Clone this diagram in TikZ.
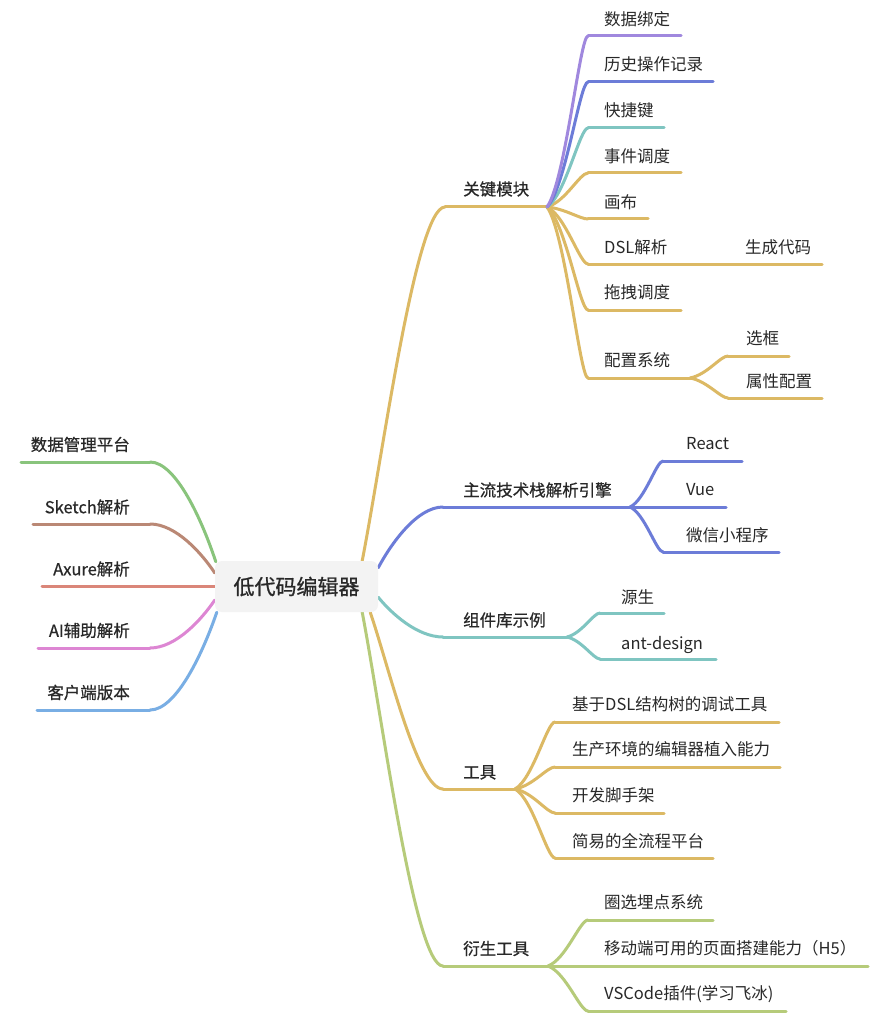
\documentclass[tikz,border=0pt]{standalone}
\usepackage{fontspec}
\setmainfont{Noto Sans CJK SC}
\newfontfamily\medfont{Noto Sans CJK SC}[FakeBold=0.7]
\newfontfamily\rootfont{Noto Sans CJK SC}[FakeBold=0.9]
\usetikzlibrary{calc}
\pgfdeclarelayer{bg}
\pgfsetlayers{bg,main}
\definecolor{cgold}{RGB}{220,185,100}
\definecolor{cpurple}{RGB}{160,136,222}
\definecolor{cblue}{RGB}{108,124,216}
\definecolor{cteal}{RGB}{127,197,193}
\definecolor{cgreen}{RGB}{137,196,124}
\definecolor{cbrown}{RGB}{186,136,117}
\definecolor{csalmon}{RGB}{218,134,121}
\definecolor{cpink}{RGB}{221,134,211}
\definecolor{csky}{RGB}{121,174,228}
\definecolor{colive}{RGB}{182,203,122}
\definecolor{rootfill}{RGB}{243,243,243}
\definecolor{txt}{RGB}{40,40,40}
\newcommand\bconn[6]{\draw[branch,#1] let \p1=(#2),\p2=(#3) in (\p1) .. controls ({\x1+#4*(\x2-\x1)},{\y1+#5*(\y2-\y1)}) and ({\x1+#6*(\x2-\x1)},\y2) .. (\p2);}
\begin{document}
\begin{tikzpicture}[x=1pt,y=-1pt,
  branch/.style={line width=3pt,line cap=round},
  lab/.style={anchor=west,inner sep=0pt,text height=14.5pt,text depth=2pt,font=\fontsize{16.5}{16.5}\selectfont,text=txt},
  labone/.style={lab,font=\medfont\fontsize{16.5}{16.5}\selectfont},
  llab/.style={labone,anchor=east},
  rootbox/.style={fill=rootfill,rounded corners=7pt,minimum width=163pt,minimum height=51pt,inner sep=0pt,font=\rootfont\fontsize{21}{21}\selectfont,text=txt}]
\begin{pgfonlayer}{bg}
\path[fill=white] (0,0) rectangle (885,1024);
\end{pgfonlayer}
\useasboundingbox (0,0) rectangle (885,1024);
% root
\node[rootbox] (root) at (296.5,586.5) {低代码编辑器};
% ---------- left side ----------
\node[llab] (dm) at (130,444.5) {数据管理平台};
\node[llab] (sk) at (130,507) {Sketch解析};
\node[llab] (ax) at (130,569) {Axure解析};
\node[llab] (ai) at (130,630.5) {AI辅助解析};
\node[llab] (kh) at (130,692.5) {客户端版本};
\coordinate (dmP) at ($(root.north west)+(1,1)$);
\coordinate (dmC) at (150,462); \coordinate (dmE) at (21,462);
\coordinate (skP) at ($(root.west)+(0,-13.5)$);
\coordinate (skC) at (150,524); \coordinate (skE) at (33,524);
\coordinate (axP) at (root.west); \coordinate (axE) at (42,586.5);
\coordinate (aiP) at ($(root.west)+(0,13.5)$);
\coordinate (aiC) at (150,648); \coordinate (aiE) at (38,648);
\coordinate (khP) at ($(root.south west)+(2,0)$);
\coordinate (khC) at (150,710); \coordinate (khE) at (37,710);
% ---------- right level 1 ----------
\node[labone] (kj) at (463,189) {关键模块};
\node[labone] (zl) at (463,490) {主流技术栈解析引擎};
\node[labone] (zj) at (463,620) {组件库示例};
\node[labone] (gj) at (463,772) {工具};
\node[labone] (ys) at (463,948.5) {衍生工具};
\coordinate (kjP) at ($(root.north east)+(-16,0)$);
\coordinate (kjC) at (445,207); \coordinate (kjJ) at (547,207);
\coordinate (zlP) at ($(root.north east)+(0,7)$);
\coordinate (zlC) at (443,507); \coordinate (zlJ) at (630,507);
\coordinate (zjP) at ($(root.south east)+(0,-15)$);
\coordinate (zjC) at (443,637); \coordinate (zjJ) at (567,637);
\coordinate (gjP) at ($(root.south east)+(-8,0)$);
\coordinate (gjC) at (443,789); \coordinate (gjJ) at (515,789);
\coordinate (ysP) at ($(root.south east)+(-16,0)$);
\coordinate (ysC) at (443,966); \coordinate (ysJ) at (548,966);
% ---------- 关键模块 children ----------
\node[lab] (k1) at (604,19) {数据绑定};
\node[lab] (k2) at (604,64.5) {历史操作记录};
\node[lab] (k3) at (604,110) {快捷键};
\node[lab] (k4) at (604,156) {事件调度};
\node[lab] (k5) at (604,202) {画布};
\node[lab] (k6) at (604,247) {DSL解析};
\node[lab] (k6a) at (745,247) {生成代码};
\node[lab] (k7) at (604,292.5) {拖拽调度};
\node[lab] (k8) at (604,360) {配置系统};
\node[lab] (k8a) at (746,338) {选框};
\node[lab] (k8b) at (746,381) {属性配置};
\coordinate (k1S) at (588,36); \coordinate (k1E) at (681,36);
\coordinate (k2S) at (588,82); \coordinate (k2E) at (713,82);
\coordinate (k3S) at (588,128); \coordinate (k3E) at (664,128);
\coordinate (k4S) at (588,173); \coordinate (k4E) at (681,173);
\coordinate (k5S) at (588,219); \coordinate (k5E) at (648,219);
\coordinate (k6S) at (588,264); \coordinate (k6E) at (720,264); \coordinate (k6aE) at (822,264);
\coordinate (k7S) at (588,310); \coordinate (k7E) at (681,310);
\coordinate (k8S) at (588,378); \coordinate (k8J) at (690,378);
\coordinate (k8aS) at (728,356); \coordinate (k8aE) at (789,356);
\coordinate (k8bS) at (728,398); \coordinate (k8bE) at (822,398);
% ---------- 主流 children ----------
\node[lab] (z1) at (686,443) {React};
\node[lab] (z2) at (686,489) {Vue};
\node[lab] (z3) at (686,535) {微信小程序};
\coordinate (z1S) at (663,461); \coordinate (z1E) at (742,461);
\coordinate (z2E) at (726,507);
\coordinate (z3S) at (663,552); \coordinate (z3E) at (779,552);
% ---------- 组件库 children ----------
\node[lab] (c1) at (621,597) {源生};
\node[lab] (c2) at (621,643) {ant-design};
\coordinate (c1S) at (600,613); \coordinate (c1E) at (664,613);
\coordinate (c2S) at (600,659); \coordinate (c2E) at (716,659);
% ---------- 工具 children ----------
\node[lab] (g1) at (572,704) {基于DSL结构树的调试工具};
\node[lab] (g2) at (572,749.5) {生产环境的编辑器植入能力};
\node[lab] (g3) at (572,795.5) {开发脚手架};
\node[lab] (g4) at (572,841) {简易的全流程平台};
\coordinate (g1S) at (555,722); \coordinate (g1E) at (779,722);
\coordinate (g2S) at (555,767); \coordinate (g2E) at (780,767);
\coordinate (g3S) at (555,813); \coordinate (g3E) at (664,813);
\coordinate (g4S) at (555,858); \coordinate (g4E) at (713,858);
% ---------- 衍生工具 children ----------
\node[lab] (y1) at (604,902.5) {圈选埋点系统};
\node[lab] (y2) at (604,948.5) {移动端可用的页面搭建能力（H5）};
\node[lab] (y3) at (604,993.5) {VSCode插件(学习飞冰)};
\coordinate (y1S) at (588,920); \coordinate (y1E) at (713,920);
\coordinate (y2E) at (868,966);
\coordinate (y3S) at (588,1011); \coordinate (y3E) at (786,1011);
% ---------- connectors ----------
\begin{pgfonlayer}{bg}
% left
\bconn{cgreen}{dmP}{dmC}{0.2}{0.4}{0.6} \draw[branch,cgreen] (dmC) -- (dmE);
\bconn{cbrown}{skP}{skC}{0.2}{0.4}{0.6} \draw[branch,cbrown] (skC) -- (skE);
\draw[branch,csalmon] (axP) -- (axE);
\bconn{cpink}{aiP}{aiC}{0.2}{0.4}{0.6} \draw[branch,cpink] (aiC) -- (aiE);
\bconn{csky}{khP}{khC}{0.2}{0.4}{0.6} \draw[branch,csky] (khC) -- (khE);
% right level 1
\bconn{cgold}{kjP}{kjC}{0.25}{0.3}{0.65} \draw[branch,cgold] (kjC) -- (kjJ);
\bconn{cblue}{zlP}{zlC}{0.2}{0.4}{0.6} \draw[branch,cblue] (zlC) -- (zlJ);
\bconn{cteal}{zjP}{zjC}{0.2}{0.4}{0.6} \draw[branch,cteal] (zjC) -- (zjJ);
\bconn{cgold}{gjP}{gjC}{0.25}{0.3}{0.65} \draw[branch,cgold] (gjC) -- (gjJ);
\bconn{colive}{ysP}{ysC}{0.25}{0.3}{0.65} \draw[branch,colive] (ysC) -- (ysJ);
% 关键模块 fan
\bconn{cgold}{kjJ}{k8S}{0.45}{0.15}{0.8} \draw[branch,cgold] (k8S) -- (k8J);
\bconn{cgold}{k8J}{k8aS}{0.45}{0.15}{0.8} \draw[branch,cgold] (k8aS) -- (k8aE);
\bconn{cgold}{k8J}{k8bS}{0.45}{0.15}{0.8} \draw[branch,cgold] (k8bS) -- (k8bE);
\bconn{cgold}{kjJ}{k7S}{0.45}{0.15}{0.8} \draw[branch,cgold] (k7S) -- (k7E);
\bconn{cgold}{kjJ}{k6S}{0.45}{0.15}{0.8} \draw[branch,cgold] (k6S) -- (k6E);
\draw[branch,cgold] (k6E) -- (k6aE);
\bconn{cgold}{kjJ}{k5S}{0.45}{0.15}{0.8} \draw[branch,cgold] (k5S) -- (k5E);
\bconn{cgold}{kjJ}{k4S}{0.45}{0.15}{0.8} \draw[branch,cgold] (k4S) -- (k4E);
\bconn{cteal}{kjJ}{k3S}{0.45}{0.15}{0.8} \draw[branch,cteal] (k3S) -- (k3E);
\bconn{cblue}{kjJ}{k2S}{0.45}{0.15}{0.8} \draw[branch,cblue] (k2S) -- (k2E);
\bconn{cpurple}{kjJ}{k1S}{0.45}{0.15}{0.8} \draw[branch,cpurple] (k1S) -- (k1E);
% 主流 fan
\bconn{cblue}{zlJ}{z1S}{0.45}{0.15}{0.8} \draw[branch,cblue] (z1S) -- (z1E);
\draw[branch,cblue] (zlJ) -- (z2E);
\bconn{cblue}{zlJ}{z3S}{0.45}{0.15}{0.8} \draw[branch,cblue] (z3S) -- (z3E);
% 组件库 fan
\bconn{cteal}{zjJ}{c1S}{0.45}{0.15}{0.8} \draw[branch,cteal] (c1S) -- (c1E);
\bconn{cteal}{zjJ}{c2S}{0.45}{0.15}{0.8} \draw[branch,cteal] (c2S) -- (c2E);
% 工具 fan
\bconn{cgold}{gjJ}{g1S}{0.45}{0.15}{0.8} \draw[branch,cgold] (g1S) -- (g1E);
\bconn{cgold}{gjJ}{g2S}{0.45}{0.15}{0.8} \draw[branch,cgold] (g2S) -- (g2E);
\bconn{cgold}{gjJ}{g3S}{0.45}{0.15}{0.8} \draw[branch,cgold] (g3S) -- (g3E);
\bconn{cgold}{gjJ}{g4S}{0.45}{0.15}{0.8} \draw[branch,cgold] (g4S) -- (g4E);
% 衍生 fan
\bconn{colive}{ysJ}{y1S}{0.45}{0.15}{0.8} \draw[branch,colive] (y1S) -- (y1E);
\draw[branch,colive] (ysJ) -- (y2E);
\bconn{colive}{ysJ}{y3S}{0.45}{0.15}{0.8} \draw[branch,colive] (y3S) -- (y3E);
\end{pgfonlayer}
\end{tikzpicture}
\end{document}
